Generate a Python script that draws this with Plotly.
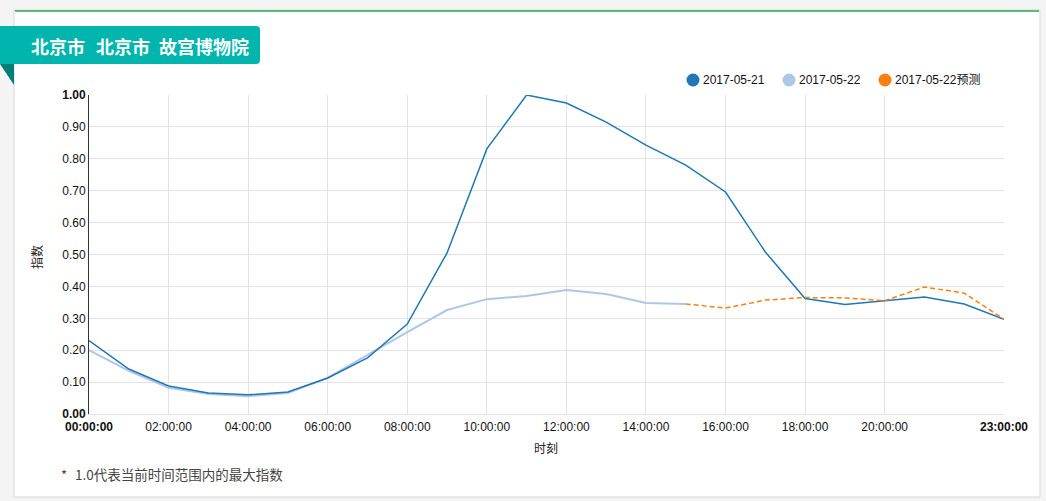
import plotly.graph_objects as go

# ---------------- data ----------------
hours = list(range(24))
hour_labels = [f"{h:02d}:00:00" for h in hours]

series_0521 = [0.23, 0.141, 0.088, 0.066, 0.060, 0.069, 0.113, 0.176, 0.282, 0.505,
               0.831, 1.000, 0.975, 0.915, 0.843, 0.780, 0.696, 0.508, 0.362, 0.343,
               0.355, 0.367, 0.345, 0.297]
series_0522 = [0.200, 0.135, 0.082, 0.063, 0.056, 0.066, 0.113, 0.185, 0.257, 0.326,
               0.360, 0.370, 0.389, 0.376, 0.348, 0.345]
forecast_hours = list(range(15, 24))
forecast_0522 = [0.345, 0.332, 0.357, 0.365, 0.364, 0.355, 0.398, 0.379, 0.297]

names = ["2017-05-21", "2017-05-22", "2017-05-22预测"]
colors = ["#1f77b4", "#aec7e8", "#ff7f0e"]

x_tickvals = [0, 2, 4, 6, 8, 10, 12, 14, 16, 18, 20, 23]
x_ticktext = ["<b>00:00:00</b>"] + [hour_labels[h] for h in x_tickvals[1:-1]] + ["<b>23:00:00</b>"]
x_gridvals = [2, 4, 6, 8, 10, 12, 14, 16, 18, 20]
y_tickvals = [i / 10 for i in range(11)]
y_ticktext = ["<b>0.00</b>"] + [f"{v:.2f}" for v in y_tickvals[1:-1]] + ["<b>1.00</b>"]

title_parts = ["北京市", "北京市", "故宫博物院"]
x_title = "时刻"
y_title = "指数"
footnote_mark = "*"
footnote = "1.0代表当前时间范围内的最大指数"

# ---------------- layout geometry (pixels) ----------------
W, H = 1046, 501
PL, PR, PT, PB = 89, 1004, 95, 414


def X(px):
    return (px - PL) / (PR - PL)


def Y(py):
    return (PB - py) / (PB - PT)


FONT = "Liberation Sans, Arial, Noto Sans CJK SC, sans-serif"
CJK = "Noto Sans CJK SC, Liberation Sans, sans-serif"

fig = go.Figure()
fig.add_trace(go.Scatter(x=hours[:len(series_0522)], y=series_0522, mode="lines",
                         line=dict(color=colors[1], width=2), name=names[1], showlegend=False))
fig.add_trace(go.Scatter(x=hours, y=series_0521, mode="lines",
                         line=dict(color=colors[0], width=1.5), name=names[0], showlegend=False))
fig.add_trace(go.Scatter(x=forecast_hours, y=forecast_0522, mode="lines",
                         line=dict(color=colors[2], width=1.5, dash="5px,3px"),
                         name=names[2], showlegend=False))

shapes = []
# card
shapes.append(dict(type="rect", xref="paper", yref="paper", layer="below",
                   x0=X(14), x1=X(1040), y0=Y(497), y1=Y(10),
                   fillcolor="white", line=dict(color="#d6d6d6", width=1)))
shapes.append(dict(type="line", xref="paper", yref="paper", layer="above",
                   x0=X(15), x1=X(1039), y0=Y(11), y1=Y(11),
                   line=dict(color="#5dbb76", width=2)))
# title badge with rounded right corners
r = 4
bx0, bx1, by0, by1 = 0, 260, 26, 64
path = (f"M {X(bx0)},{Y(by0)} L {X(bx1 - r)},{Y(by0)} Q {X(bx1)},{Y(by0)} {X(bx1)},{Y(by0 + r)} "
        f"L {X(bx1)},{Y(by1 - r)} Q {X(bx1)},{Y(by1)} {X(bx1 - r)},{Y(by1)} "
        f"L {X(bx0)},{Y(by1)} Z")
shapes.append(dict(type="path", xref="paper", yref="paper", layer="above", path=path,
                   fillcolor="#00b5ad", line=dict(width=0)))
# fold triangle
shapes.append(dict(type="path", xref="paper", yref="paper", layer="above",
                   path=f"M {X(0)},{Y(64)} L {X(14)},{Y(64)} L {X(14)},{Y(85)} Z",
                   fillcolor="#007f79", line=dict(width=0)))

annotations = []
for part, left in zip(title_parts, [29, 94, 157]):
    annotations.append(dict(text=f"<b>{part}</b>", xref="paper", yref="paper", x=X(left), y=Y(46),
                            xanchor="left", yanchor="middle", showarrow=False,
                            font=dict(family=CJK, size=18, color="white")))
annotations += [
    dict(text=x_title, xref="paper", yref="paper", x=X(546), y=Y(447),
         xanchor="center", yanchor="middle", showarrow=False,
         font=dict(family=CJK, size=12, color="#222")),
    dict(text=y_title, xref="paper", yref="paper", x=X(36), y=Y(257), textangle=-90,
         xanchor="center", yanchor="middle", showarrow=False,
         font=dict(family=CJK, size=12, color="#222")),
    dict(text=footnote_mark, xref="paper", yref="paper", x=X(59), y=Y(474),
         xanchor="left", yanchor="middle", showarrow=False,
         font=dict(family=CJK, size=13, color="#444")),
    dict(text=footnote, xref="paper", yref="paper", x=X(73), y=Y(474),
         xanchor="left", yanchor="middle", showarrow=False,
         font=dict(family=CJK, size=13.5, color="#444")),
]

# legend (manual, circle markers)
legend_cx = [693, 789, 885]
for cx, nm, col in zip(legend_cx, names, colors):
    shapes.append(dict(type="circle", xref="paper", yref="paper", layer="above",
                       xsizemode="pixel", ysizemode="pixel",
                       xanchor=X(cx), yanchor=Y(80), x0=-6.5, x1=6.5, y0=-6.5, y1=6.5,
                       fillcolor=col, line=dict(width=0)))
    annotations.append(dict(text=nm, xref="paper", yref="paper", x=X(cx + 7.5), y=Y(80),
                            xanchor="left", yanchor="middle", showarrow=False,
                            font=dict(family=FONT, size=12, color="#111")))

fig.update_layout(
    width=W, height=H,
    margin=dict(l=PL, r=W - PR, t=PT, b=H - PB, pad=0),
    paper_bgcolor="#f4f4f4", plot_bgcolor="white",
    showlegend=False,
    shapes=shapes, annotations=annotations,
    font=dict(family=FONT, size=12, color="#111"),
    xaxis=dict(range=[0, 23], tickmode="array", tickvals=x_tickvals, ticktext=x_ticktext,
               showgrid=False, zeroline=False, showline=True, linecolor="#e3e3e3", linewidth=1,
               ticks="", ticklabelstandoff=2, tickfont=dict(family=FONT, size=12, color="#111"),
               minor=dict(tickmode="array", tickvals=x_gridvals, showgrid=True,
                          gridcolor="#e3e3e3", gridwidth=1, ticks=""),
               fixedrange=True),
    yaxis=dict(range=[0, 1], tickmode="array", tickvals=y_tickvals, ticktext=y_ticktext,
               showgrid=True, gridcolor="#e3e3e3", gridwidth=1, zeroline=False,
               showline=True, linecolor="#333", linewidth=1, ticks="",
               tickfont=dict(family=FONT, size=12, color="#111"), fixedrange=True),
)

fig.write_html("out.html", config={"displayModeBar": False},
               post_script="document.body.style.margin='0';document.body.style.overflow='hidden';")
